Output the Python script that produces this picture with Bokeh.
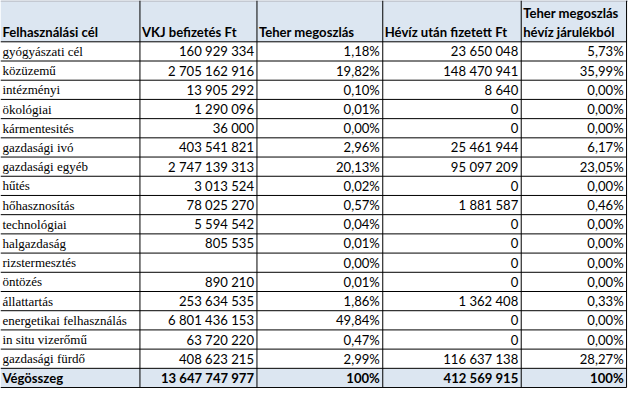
from bokeh.plotting import figure
from bokeh.models import Range1d, ColumnDataSource
from bokeh.core.properties import value
from bokeh.embed import file_html
from bokeh.resources import INLINE

# ---- data ----
headers = ["Felhasználási cél", "VKJ befizetés Ft", "Teher megoszlás",
           "Hévíz után fizetett Ft", "Teher megoszlás", "hévíz járulékból"]
categories = ["gyógyászati cél", "közüzemű", "intézményi", "ökológiai", "kármentesités",
              "gazdasági ivó", "gazdasági egyéb", "hűtés", "hőhasznosítás", "technológiai",
              "halgazdaság", "rizstermesztés", "öntözés", "állattartás",
              "energetikai felhasználás", "in situ vizerőmű", "gazdasági fürdő"]
vkj = [160929334, 2705162916, 13905292, 1290096, 36000, 403541821, 2747139313, 3013524,
       78025270, 5594542, 805535, None, 890210, 253634535, 6801436153, 63720220, 408623215]
vkj_share = [1.18, 19.82, 0.10, 0.01, 0.00, 2.96, 20.13, 0.02, 0.57, 0.04, 0.01, 0.00,
             0.01, 1.86, 49.84, 0.47, 2.99]
heviz = [23650048, 148470941, 8640, 0, 0, 25461944, 95097209, 0, 1881587, 0, 0, 0, 0,
         1362408, 0, 0, 116637138]
heviz_share = [5.73, 35.99, 0.00, 0.00, 0.00, 6.17, 23.05, 0.00, 0.46, 0.00, 0.00, 0.00,
               0.00, 0.33, 0.00, 0.00, 28.27]
total_label = "Végösszeg"
vkj_total = 13647747977
heviz_total = 412569915
share_total = 100

# ---- layout constants ----
col_edges = [0, 143, 263, 392, 534, 642]
HDR = 2.15          # header height in row units
n = len(categories)


def fmt_int(v):
    if v is None:
        return ""
    return f"{v:,}".replace(",", " ")


def fmt_pct(v):
    return f"{v:.2f}%".replace(".", ",")


W, H = 628, 388
p = figure(width=W, height=H, output_backend="svg", toolbar_location=None,
           x_range=Range1d(0, 644), y_range=Range1d(n + 1 + 0.05, -HDR),
           min_border=0, outline_line_color=None, background_fill_color="white",
           border_fill_color="white")
p.axis.visible = False
p.grid.visible = False

fs_scale = H / 404.0
NUM_FS = f"{13.6 * fs_scale:.1f}px"
SERIF_FS = f"{13.5 * fs_scale:.1f}px"
BLUE = "#dce6f1"

# backgrounds
p.quad(left=[col_edges[0]], right=[col_edges[-1]], top=[-HDR], bottom=[0],
       fill_color=BLUE, line_color=None)
p.quad(left=[col_edges[0]], right=[col_edges[-1]], top=[n], bottom=[n + 1],
       fill_color=BLUE, line_color=None)

# grid lines
ys = list(range(0, n + 2))
p.segment(x0=[col_edges[0]] * len(ys), x1=[col_edges[-1]] * len(ys), y0=ys, y1=ys,
          line_color="black", line_width=1)
p.segment(x0=[col_edges[0]], x1=[644], y0=[-HDR + 0.03], y1=[-HDR + 0.03],
          line_color="#c4c9d2", line_width=2)
xs = col_edges[1:]
p.segment(x0=xs, x1=xs, y0=[-HDR] * len(xs), y1=[n + 1] * len(xs),
          line_color="black", line_width=1)

# header texts
hx = [col_edges[0] + 2, col_edges[1] + 2, col_edges[2] + 2, col_edges[3] + 2,
      col_edges[4] + 2, col_edges[4] + 2]
hy = [-0.5, -0.5, -0.5, -0.5, -1.48, -0.5]
p.text(x=hx, y=hy, text=headers, text_font=value("Lato"), text_font_style="bold",
       text_font_size=NUM_FS, text_align="left", text_baseline="middle",
       text_color="black")

rows_y = [i + 0.5 for i in range(n)]

# category names (serif)
p.text(x=[col_edges[0] + 2] * n, y=rows_y, text=categories,
       text_font=value("Liberation Serif"), text_font_size=SERIF_FS,
       text_align="left", text_baseline="middle", text_color="black")

# numeric columns
cols = [
    [fmt_int(v) for v in vkj],
    [fmt_pct(v) for v in vkj_share],
    [fmt_int(v) for v in heviz],
    [fmt_pct(v) for v in heviz_share],
]
for ci, texts in enumerate(cols):
    src = ColumnDataSource(dict(x=[col_edges[ci + 2] - 3] * n, y=rows_y, t=texts))
    p.text(x="x", y="y", text="t", source=src, text_font=value("Lato"),
           text_font_size=NUM_FS, text_align="right", text_baseline="middle",
           text_color="black")

# total row
ty = n + 0.5
p.text(x=[col_edges[0] + 2], y=[ty], text=[total_label], text_font=value("Lato"),
       text_font_style="bold", text_font_size=NUM_FS, text_align="left",
       text_baseline="middle", text_color="black")
tot_texts = [fmt_int(vkj_total), f"{share_total}%", fmt_int(heviz_total), f"{share_total}%"]
p.text(x=[e - 3 for e in col_edges[2:]], y=[ty] * 4, text=tot_texts,
       text_font=value("Lato"), text_font_style="bold", text_font_size=NUM_FS,
       text_align="right", text_baseline="middle", text_color="black")

open("out.html", "w").write(file_html(p, INLINE))
